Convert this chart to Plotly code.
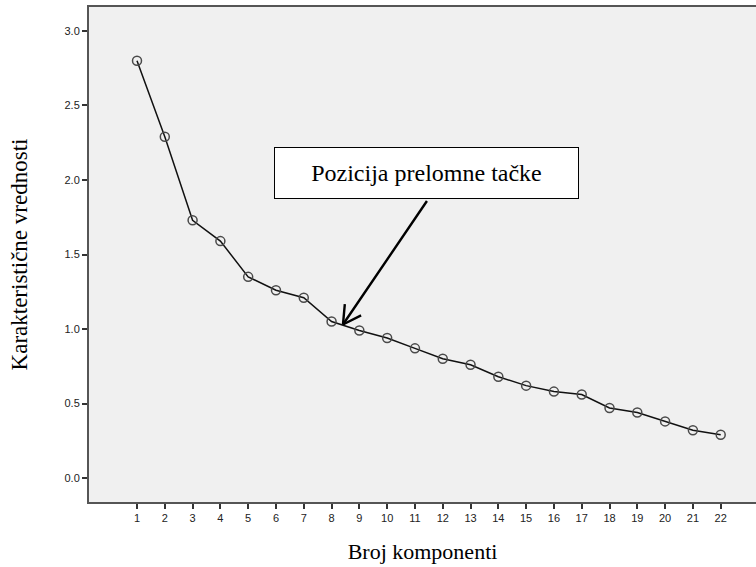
import math
import plotly.graph_objects as go

# Scree plot: eigenvalue of each extracted component
components = list(range(1, 23))
eigenvalues = [2.80, 2.29, 1.73, 1.59, 1.35, 1.26, 1.21, 1.05, 0.99, 0.94, 0.87,
               0.80, 0.76, 0.68, 0.62, 0.58, 0.56, 0.47, 0.44, 0.38, 0.32, 0.29]
y_ticks = [0.0, 0.5, 1.0, 1.5, 2.0, 2.5, 3.0]

# Break point marked by the callout arrow
elbow_x, elbow_y = 8.41, 1.03
callout_x, callout_y = 11.41, 2.05
callout_text = "Pozicija prelomne tačke"

serif = "Liberation Serif, Times New Roman, serif"
sans = "Liberation Sans, Arial, sans-serif"

fig = go.Figure()
fig.add_trace(go.Scatter(
    x=components, y=eigenvalues, mode="lines+markers",
    line=dict(color="#111111", width=1.5),
    marker=dict(symbol="circle-open", size=9, color="#4a4a4a",
                line=dict(width=1.5, color="#4a4a4a")),
    showlegend=False, hoverinfo="x+y",
))

# Arrow shaft (pixel offset of the tail from the tip)
shaft_dx, shaft_dy = 85, -125
fig.add_annotation(
    x=elbow_x, y=elbow_y, xref="x", yref="y", text="",
    showarrow=True, arrowhead=0, arrowwidth=2.4, arrowcolor="#000000",
    ax=shaft_dx, ay=shaft_dy, axref="pixel", ayref="pixel",
)
# Open chevron head: two short strokes either side of the shaft
shaft_angle = math.atan2(shaft_dy, shaft_dx)
for side in (-1, 1):
    a = shaft_angle + side * math.radians(29)
    fig.add_annotation(
        x=elbow_x, y=elbow_y, xref="x", yref="y", text="",
        showarrow=True, arrowhead=0, arrowwidth=2.4, arrowcolor="#000000",
        ax=22 * math.cos(a), ay=22 * math.sin(a), axref="pixel", ayref="pixel",
    )

# Callout box
fig.add_annotation(
    x=callout_x, y=callout_y, xref="x", yref="y", text=callout_text,
    showarrow=False, font=dict(family=serif, size=24, color="#000000"),
    bgcolor="#ffffff", bordercolor="#000000", borderwidth=1,
    width=299, height=46, borderpad=2, align="center", valign="middle",
)

fig.update_layout(
    width=756, height=567,
    margin=dict(l=89, r=0, t=7, b=65),
    paper_bgcolor="#ffffff", plot_bgcolor="#f0f0f0",
    xaxis=dict(
        range=[-0.727, 23.27], tickmode="array", tickvals=components,
        ticktext=[str(c) for c in components],
        showgrid=False, zeroline=False,
        showline=True, linecolor="#555555", linewidth=2, mirror=True,
        ticks="outside", ticklen=5, tickwidth=1.5, tickcolor="#333333",
        tickfont=dict(family=sans, size=11, color="#222222"),
        title=dict(text="Broj komponenti", standoff=20,
                   font=dict(family=serif, size=22, color="#000000")),
    ),
    yaxis=dict(
        range=[-0.161, 3.161], tickmode="array", tickvals=y_ticks,
        tickformat=".1f",
        showgrid=False, zeroline=False,
        showline=True, linecolor="#555555", linewidth=2, mirror=False,
        ticks="outside", ticklen=5, tickwidth=1.5, tickcolor="#333333",
        tickfont=dict(family=sans, size=11, color="#222222"),
        title=dict(text="Karakteristične vrednosti", standoff=30,
                   font=dict(family=serif, size=23, color="#000000")),
    ),
)

fig.write_html("out.html")
